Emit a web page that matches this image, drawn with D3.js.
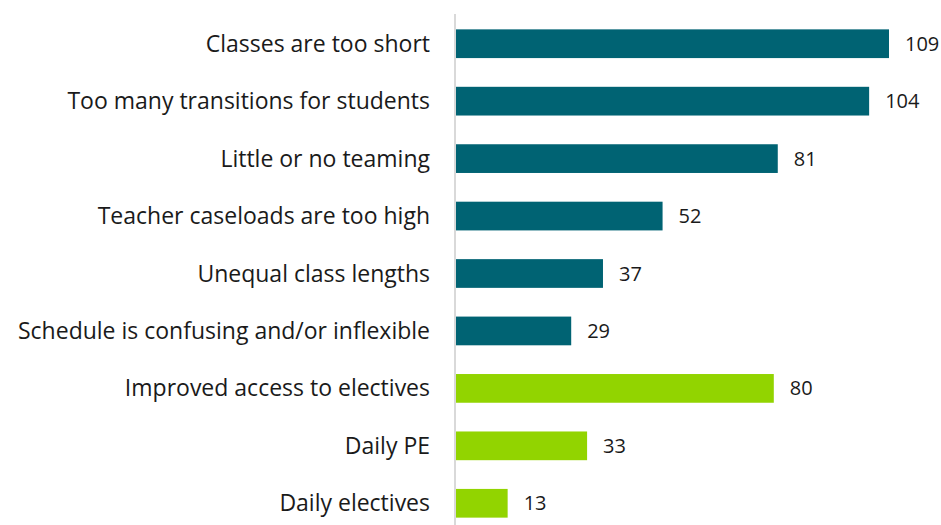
<!DOCTYPE html>
<html>
<head>
<meta charset="utf-8">
<script src="https://cdn.jsdelivr.net/npm/d3@7"></script>
<style>
  body { margin: 0; background: #fff; }
  text { font-family: "Open Sans", Lato, sans-serif; fill: #1a1a1a; }
</style>
</head>
<body>
<script>
const categories = [
  'Classes are too short',
  'Too many transitions for students',
  'Little or no teaming',
  'Teacher caseloads are too high',
  'Unequal class lengths',
  'Schedule is confusing and/or inflexible',
  'Improved access to electives',
  'Daily PE',
  'Daily electives'
];
const values = [109, 104, 81, 52, 37, 29, 80, 33, 13];
const groups = ['problem', 'problem', 'problem', 'problem', 'problem', 'problem', 'benefit', 'benefit', 'benefit'];

const colors = {problem: '#006373', benefit: '#92d400'};

const width = 941, height = 525;
const x0 = 456;

const svg = d3.select('body').append('svg')
  .attr('width', width)
  .attr('height', height);

const x = d3.scaleLinear().domain([0, 109]).range([x0, 889]);
const y = d3.scaleBand().domain(categories).range([15, 532]).paddingInner(0.5).paddingOuter(0.25);

const data = categories.map((c, i) => ({cat: c, value: values[i], group: groups[i]}));

svg.selectAll('.bar').data(data).enter().append('rect')
  .attr('class', 'bar')
  .attr('x', x(0))
  .attr('y', (d) => y(d.cat))
  .attr('width', (d) => x(d.value) - x(0))
  .attr('height', y.bandwidth())
  .attr('fill', (d) => colors[d.group]);

// category labels
svg.selectAll('.cat').data(data).enter().append('text')
  .attr('class', 'cat')
  .attr('x', 430)
  .attr('y', (d) => y(d.cat) + y.bandwidth() / 2)
  .attr('dy', '0.35em')
  .attr('text-anchor', 'end')
  .style('font-size', '23px')
  .text((d) => d.cat);

// value labels
svg.selectAll('.val').data(data).enter().append('text')
  .attr('class', 'val')
  .attr('x', (d) => x(d.value) + 16)
  .attr('y', (d) => y(d.cat) + y.bandwidth() / 2)
  .attr('dy', '0.35em')
  .style('font-size', '20px')
  .text((d) => d.value);

// axis line
svg.append('line')
  .attr('x1', x0 - 1).attr('x2', x0 - 1)
  .attr('y1', 14).attr('y2', height)
  .attr('stroke', '#d9d9d9')
  .attr('stroke-width', 2);
</script>
</body>
</html>
